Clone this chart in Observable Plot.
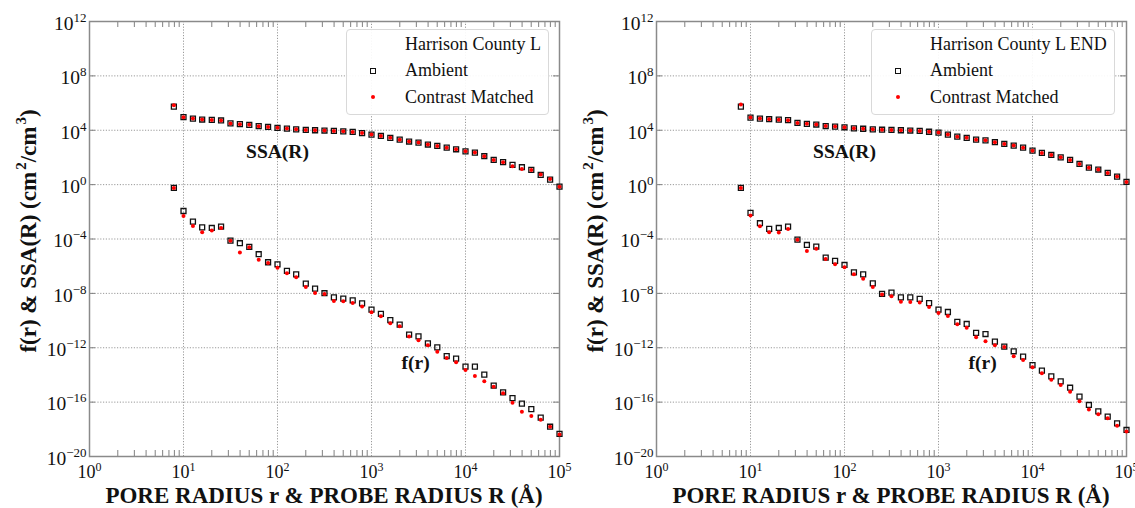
<!DOCTYPE html>
<html>
<head>
<meta charset="utf-8">
<script src="https://cdn.jsdelivr.net/npm/d3@7"></script>
<script src="https://cdn.jsdelivr.net/npm/@observablehq/plot@0.6"></script>
<style>
  html, body { margin: 0; padding: 0; background: #fff; }
  #wrap { display: flex; width: 1135px; height: 508px; overflow: hidden; background: #fff; }
  .panel { position: relative; height: 508px; }
  .legend { position: absolute; top: 29px; border: 1px solid #d9d9d9; border-radius: 4px;
    background: rgba(255,255,255,0.92); padding: 1px 7px 3px 0; font-family: 'Liberation Serif', serif;
    font-size: 18px; color: #111; }
  .legend .row { display: flex; align-items: center; height: 26.5px; white-space: nowrap; }
  .legend .mk { width: 52px; display: flex; justify-content: center; align-items: center; }
  .legend .txt { margin-left: 6px; }
  .sq { width: 4px; height: 4px; border: 1.3px solid #111; }
  .rd { width: 4px; height: 4px; border-radius: 50%; background: #ff0000; }
</style>
</head>
<body>
<div id="wrap"></div>
<script>
// ---- data -------------------------------------------------------------
const radius = [7.9, 10, 12.6, 15.8, 20, 25.1, 31.6, 39.8, 50.1, 63.1, 79.4,
  100, 126, 158, 200, 251, 316, 398, 501, 631, 794,
  1000, 1259, 1585, 1995, 2512, 3162, 3981, 5012, 6310, 7943,
  10000, 12589, 15849, 19953, 25119, 31623, 39811, 50119, 63096, 79433, 100000];

// values given as log10
const ssaAmbientL = [5.74, 4.96, 4.86, 4.79, 4.76, 4.72, 4.50, 4.45, 4.40, 4.30, 4.24,
  4.18, 4.12, 4.07, 4.02, 4.00, 3.98, 3.95, 3.92, 3.88, 3.79,
  3.68, 3.58, 3.44, 3.31, 3.17, 3.09, 2.95, 2.85, 2.72, 2.60,
  2.45, 2.36, 2.09, 1.82, 1.65, 1.45, 1.28, 1.08, 0.71, 0.37, -0.15];
const ssaMatchedL = [5.84, 4.96, 4.86, 4.79, 4.76, 4.72, 4.50, 4.45, 4.40, 4.30, 4.24,
  4.18, 4.12, 4.07, 4.02, 4.00, 3.98, 3.95, 3.92, 3.88, 3.79,
  3.68, 3.58, 3.44, 3.31, 3.17, 3.09, 2.95, 2.85, 2.72, 2.60,
  2.45, 2.36, 2.09, 1.82, 1.65, 1.35, 1.15, 1.08, 0.75, 0.42, -0.15];
const frAmbientL = [-0.24, -1.94, -2.72, -3.14, -3.19, -3.09, -4.12, -4.31, -4.58, -5.12, -5.71,
  -5.86, -6.35, -6.60, -7.28, -7.65, -7.99, -8.29, -8.39, -8.51, -8.73,
  -9.20, -9.51, -9.96, -10.30, -11.04, -11.16, -11.67, -11.97, -12.61, -12.80,
  -13.39, -13.39, -13.98, -14.79, -15.28, -15.70, -16.11, -16.51, -17.14, -17.81, -18.34];
const frMatchedL = [-0.24, -2.30, -3.04, -3.51, -3.38, -3.19, -4.12, -5.00, -4.61, -5.52, -5.76,
  -6.11, -6.52, -6.82, -7.53, -7.97, -8.04, -8.56, -8.58, -8.71, -8.96,
  -9.39, -9.69, -10.20, -10.42, -11.18, -11.45, -11.82, -12.29, -12.75, -13.07,
  -13.64, -14.08, -14.47, -14.86, -15.35, -16.04, -16.70, -17.02, -17.29, -17.81, -18.39];

const ssaAmbientR = [5.74, 4.93, 4.86, 4.81, 4.78, 4.74, 4.54, 4.47, 4.42, 4.31, 4.27,
  4.22, 4.14, 4.11, 4.07, 4.04, 4.02, 4.00, 3.98, 3.95, 3.89,
  3.83, 3.68, 3.53, 3.44, 3.31, 3.26, 3.12, 2.99, 2.87, 2.72,
  2.50, 2.33, 2.18, 2.01, 1.82, 1.52, 1.25, 1.11, 0.86, 0.59, 0.20];
const ssaMatchedR = [5.89, 4.93, 4.86, 4.81, 4.78, 4.74, 4.54, 4.47, 4.42, 4.31, 4.27,
  4.22, 4.14, 4.11, 4.07, 4.04, 4.02, 4.00, 3.98, 3.95, 3.89,
  3.83, 3.68, 3.53, 3.44, 3.31, 3.26, 3.12, 2.99, 2.87, 2.72,
  2.50, 2.33, 2.18, 2.01, 1.82, 1.52, 1.25, 1.11, 0.86, 0.59, 0.20];
const frAmbientR = [-0.24, -2.08, -2.84, -3.26, -3.19, -3.09, -4.05, -4.44, -4.56, -5.37, -5.61,
  -5.91, -6.45, -6.60, -7.26, -8.04, -7.94, -8.29, -8.29, -8.41, -8.72,
  -9.20, -9.37, -10.10, -10.25, -10.91, -10.99, -11.55, -11.92, -12.26, -12.65,
  -13.27, -13.68, -14.10, -14.47, -14.94, -15.60, -16.21, -16.68, -17.07, -17.56, -18.05];
const frMatchedR = [-0.24, -2.28, -3.06, -3.51, -3.53, -3.26, -4.05, -4.88, -4.71, -5.47, -5.86,
  -6.08, -6.60, -6.92, -7.53, -8.09, -8.21, -8.61, -8.63, -8.68, -9.01,
  -9.44, -9.66, -10.28, -10.52, -11.23, -11.53, -11.82, -11.94, -12.63, -12.90,
  -13.44, -13.88, -14.35, -14.74, -15.23, -15.94, -16.55, -16.90, -17.19, -17.73, -18.17];

const xTickExps = [0, 1, 2, 3, 4, 5];
const yTickExps = [12, 8, 4, 0, -4, -8, -12, -16, -20];
const seriesNames = ["Ambient", "Contrast Matched"];
const sampleNames = ["Harrison County L", "Harrison County L END"];
const curveLabels = ["SSA(R)", "f(r)"];
// label anchor positions (data space: radius, log10 value)
const labelX = [100, 2950];
const labelY = [2.43, -13.1];
const xTitle = "PORE RADIUS r & PROBE RADIUS R (Å)";

// ---- drawing ----------------------------------------------------------
const FONT = "'Liberation Serif', 'Times New Roman', serif";
const NS = "http://www.w3.org/2000/svg";

function rows(sa, sm, fa, fm) {
  const amb = [], cm = [];
  radius.forEach((r, i) => {
    amb.push({r, v: 10 ** sa[i]}); amb.push({r, v: 10 ** fa[i]});
    cm.push({r, v: 10 ** sm[i]}); cm.push({r, v: 10 ** fm[i]});
  });
  return {amb, cm};
}

function supLabels(svg, sel, supSize, shift) {
  svg.querySelectorAll(sel).forEach(t => {
    const m = t.textContent.match(/^10\^(.+)$/);
    if (!m) return;
    t.textContent = "10";
    const s = document.createElementNS(NS, "tspan");
    s.setAttribute("dy", String(-shift));
    s.setAttribute("font-size", String(supSize));
    s.textContent = m[1].replace("-", "\u2212");
    t.appendChild(s);
  });
}

function panel(width, sa, sm, fa, fm, sample, legendLeft) {
  const {amb, cm} = rows(sa, sm, fa, fm);
  const xMajor = xTickExps.map(e => 10 ** e);
  const yMajor = yTickExps.map(e => 10 ** e);
  const xMinor = xTickExps.slice(0, -1).flatMap(e => [2,3,4,5,6,7,8,9].map(m => m * 10 ** e));
  const mL = 89, mR = width - 89 - 470, mT = 21, mB = 52;
  const innerH = 508 - mT - mB, innerW = width - mL - mR;
  const notes = curveLabels.map((t, i) => ({t, x: labelX[i], y: 10 ** labelY[i]}));
  const tickStroke = "#808080";
  const fmt = d => "10^" + Math.round(Math.log10(d));
  const svg = Plot.plot({
    width, height: 508,
    marginLeft: mL, marginRight: mR, marginTop: mT, marginBottom: mB,
    x: {type: "log", domain: [1, 1e5]},
    y: {type: "log", domain: [1e-20, 1e12]},
    style: {fontFamily: FONT, fontSize: "17px", color: "#111", background: "transparent", overflow: "visible"},
    marks: [
      Plot.gridX(xMajor, {stroke: "#9a9a9a", strokeOpacity: 1, strokeDasharray: "1.2,1.6", strokeWidth: 1}),
      Plot.gridY(yMajor, {stroke: "#9a9a9a", strokeOpacity: 1, strokeDasharray: "1.2,1.6", strokeWidth: 1}),
      Plot.tickX(xMinor, {x: d => d, insetTop: innerH - 6, stroke: tickStroke}),
      Plot.tickX(xMinor, {x: d => d, insetBottom: innerH - 6, stroke: tickStroke}),
      Plot.tickY(yMajor, {y: d => d, insetLeft: innerW - 6, stroke: tickStroke}),
      Plot.tickY(yMajor, {y: d => d, insetRight: innerW - 6, stroke: tickStroke}),
      Plot.frame({stroke: "#8a8a8a", strokeWidth: 1.5}),
      Plot.axisX(xMajor, {tickSize: 0, tickPadding: 9, label: null, fontSize: 18, tickFormat: fmt}),
      Plot.axisY(yMajor, {tickSize: 0, tickPadding: 3, dy: 2, label: null, fontSize: 19.5, tickFormat: fmt}),
      Plot.dot(amb, {x: "r", y: "v", symbol: "square", r: 2.8, stroke: "#111", strokeWidth: 1.3, fill: "none"}),
      Plot.dot(cm, {x: "r", y: "v", r: 2, fill: "#ff0000", stroke: "none"}),
      Plot.text(notes, {x: "x", y: "y", text: "t", fontWeight: "bold", fontSize: 19.5, fill: "#111"})
    ]
  });
  supLabels(svg, 'g[aria-label="x-axis tick label"] text', 12, 7);
  supLabels(svg, 'g[aria-label="y-axis tick label"] text', 13, 8);
  const s = d3.select(svg);
  s.append("text")
    .attr("x", mL + innerW / 2).attr("y", 503)
    .attr("text-anchor", "middle")
    .attr("font-family", FONT).attr("font-weight", "bold").attr("font-size", 23)
    .attr("fill", "#111")
    .text(xTitle);
  const yt = s.append("text")
    .attr("transform", "translate(36,231) rotate(-90)")
    .attr("text-anchor", "middle")
    .attr("font-family", FONT).attr("font-weight", "bold").attr("font-size", 23)
    .attr("fill", "#111");
  yt.append("tspan").text("f(r) & SSA(R) (cm");
  yt.append("tspan").attr("dy", -10).attr("dx", 2).attr("font-size", 15).text("2");
  yt.append("tspan").attr("dy", 10).text("/cm");
  yt.append("tspan").attr("dy", -10).attr("dx", 2).attr("font-size", 15).text("3");
  yt.append("tspan").attr("dy", 10).text(")");

  const div = document.createElement("div");
  div.className = "panel";
  div.style.width = width + "px";
  div.appendChild(svg);
  const lg = document.createElement("div");
  lg.className = "legend";
  lg.style.left = legendLeft + "px";
  lg.innerHTML =
    `<div class="row"><span class="mk"></span><span class="txt">${sample}</span></div>` +
    `<div class="row"><span class="mk"><span class="sq"></span></span><span class="txt">${seriesNames[0]}</span></div>` +
    `<div class="row"><span class="mk"><span class="rd"></span></span><span class="txt">${seriesNames[1]}</span></div>`;
  div.appendChild(lg);
  return div;
}

const wrap = document.getElementById("wrap");
wrap.appendChild(panel(567, ssaAmbientL, ssaMatchedL, frAmbientL, frMatchedL, sampleNames[0], 346));
wrap.appendChild(panel(568, ssaAmbientR, ssaMatchedR, frAmbientR, frMatchedR, sampleNames[1], 304));
</script>
</body>
</html>
